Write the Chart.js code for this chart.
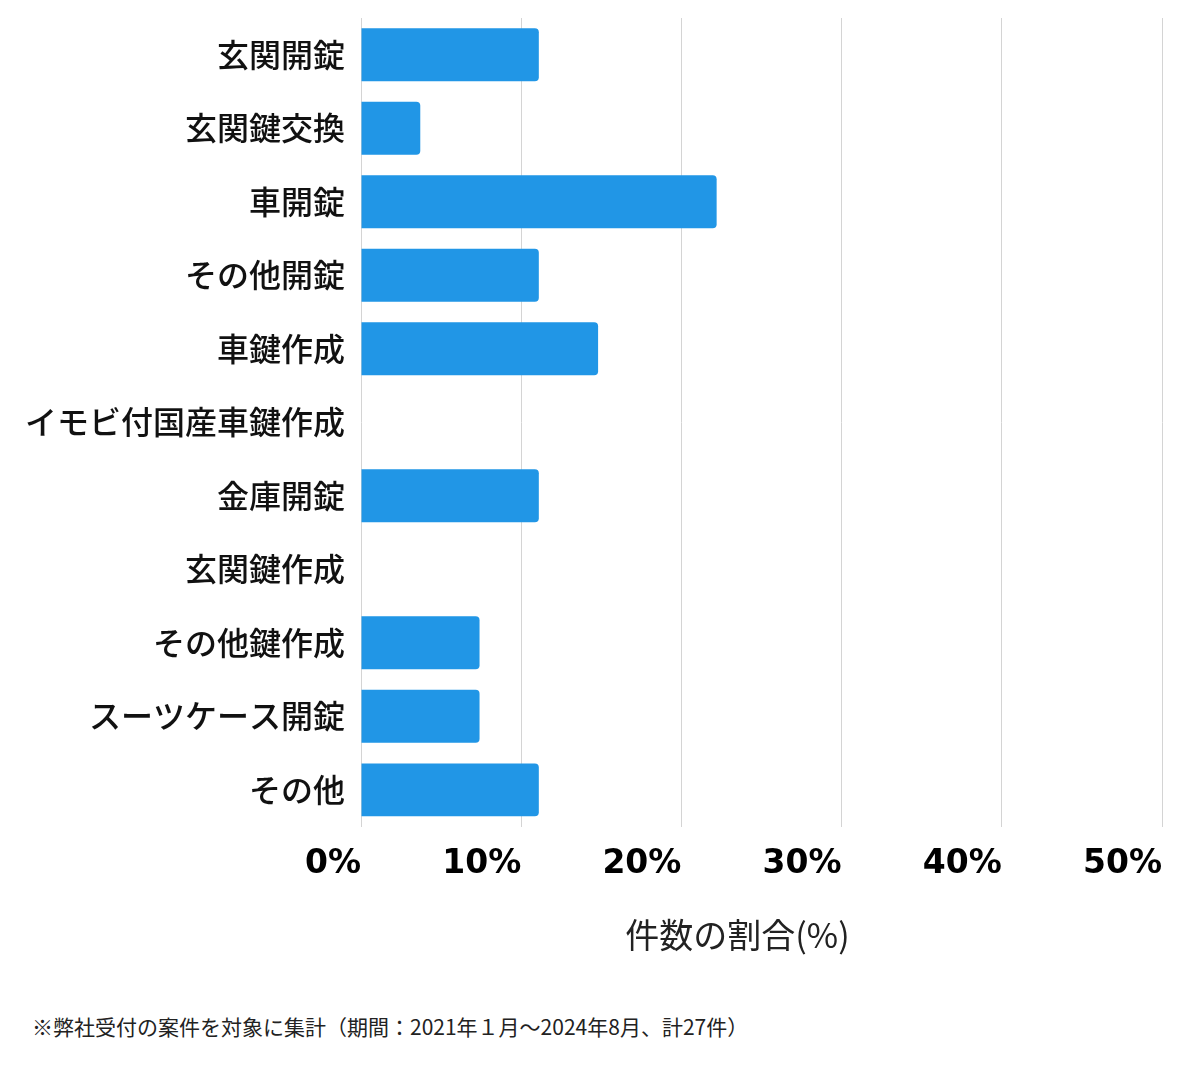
<!DOCTYPE html>
<html lang="ja">
<head>
<meta charset="utf-8">
<script src="https://cdn.jsdelivr.net/npm/chart.js@4.4.1/dist/chart.umd.min.js"></script>
<style>
  body { margin: 0; background: #fff; }
  #wrap { position: relative; width: 1200px; height: 980px; }
  #note {
    position: absolute; left: 32px; top: 1011px;
    font-family: "Noto Sans CJK JP", sans-serif; font-size: 21px; color: #222;
    white-space: nowrap; text-spacing-trim: space-all;
  }
</style>
</head>
<body>
<div id="wrap"><canvas id="grafico"></canvas></div>
<div id="note">※弊社受付の案件を対象に集計（期間：2021年１月〜2024年8月、計27件）</div>
<script>
const categorie = ['玄関開錠', '玄関鍵交換', '車開錠', 'その他開錠', '車鍵作成', 'イモビ付国産車鍵作成', '金庫開錠', '玄関鍵作成', 'その他鍵作成', 'スーツケース開錠', 'その他'];
const percentuali = [11.1, 3.7, 22.2, 11.1, 14.8, 0, 11.1, 0, 7.4, 7.4, 11.1];
const tickValori = [0, 10, 20, 30, 40, 50];
const titoloAsse = '件数の割合(%)';

const fontJp = '"Noto Sans CJK JP", "Noto Sans", sans-serif';
const fontTick = { family: '"DejaVu Sans", sans-serif', size: 33, weight: 'bold' };

// il titolo dell'asse e' centrato tra il bordo della prima etichetta e il bordo destro
const titoloPlugin = {
    id: 'titoloAsse',
    afterDraw(chart) {
        const s = chart.scales.x;
        const ctx = chart.ctx;
        ctx.save();
        ctx.font = `bold ${fontTick.size}px ${fontTick.family}`;
        const w0 = ctx.measureText(tickValori[0] + '%').width;
        ctx.font = `34px ${fontJp}`;
        ctx.fillStyle = '#222';
        ctx.textAlign = 'center';
        ctx.textBaseline = 'middle';
        ctx.fillText(titoloAsse, (s.left - w0 + s.right) / 2 + 4, s.bottom - 25 - 34 * 1.2 / 2);
        ctx.restore();
    }
};

new Chart(document.getElementById('grafico'), {
    type: 'bar',
    data: {
        labels: categorie,
        datasets: [{
            data: percentuali,
            backgroundColor: '#2196e6',
            borderRadius: 4,
            borderSkipped: 'start'
        }]
    },
    options: {
        indexAxis: 'y',
        responsive: true,
        maintainAspectRatio: false,
        animation: false,
        layout: { padding: { top: 18, right: 38, left: 0, bottom: 0 } },
        scales: {
            x: {
                min: tickValori[0],
                max: tickValori[tickValori.length - 1],
                grid: { color: '#d4d4d4', drawTicks: false },
                border: { display: false },
                ticks: {
                    stepSize: 10,
                    align: 'end',
                    padding: 18,
                    color: '#000',
                    font: fontTick,
                    callback: v => v + '%'
                },
                title: {
                    display: true,
                    text: titoloAsse,
                    color: 'rgba(0,0,0,0)',
                    font: { family: fontJp, size: 34 },
                    padding: { top: 12, bottom: 25 }
                }
            },
            y: {
                grid: { display: false, drawTicks: false },
                border: { display: false },
                afterFit: s => { s.width = 361; s.paddingTop = 0; s.paddingBottom = 0; },
                ticks: {
                    padding: 16,
                    color: '#111',
                    font: { family: fontJp, size: 32, weight: 500 }
                }
            }
        },
        plugins: {
            legend: { display: false },
            tooltip: { enabled: false }
        }
    },
    plugins: [titoloPlugin]
});
</script>
</body>
</html>
